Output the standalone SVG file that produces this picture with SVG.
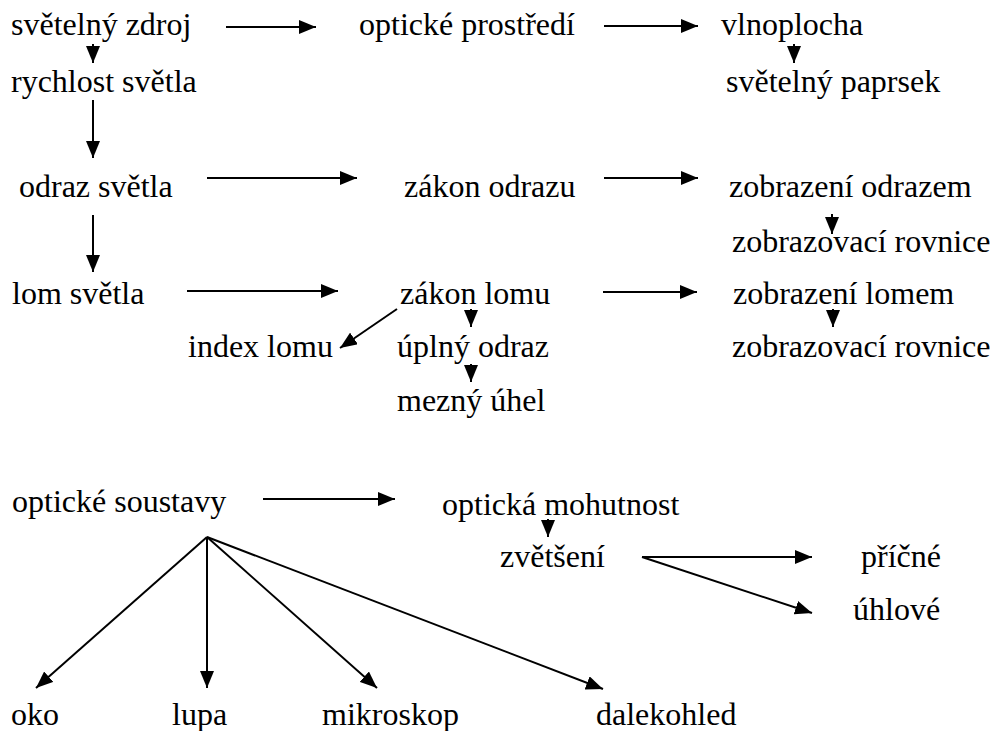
<svg xmlns="http://www.w3.org/2000/svg" width="992" height="731" viewBox="0 0 992 731">
<style>
  .t text { font-family: 'Liberation Serif', 'Times New Roman', Times, 'DejaVu Serif', serif; font-size: 32px; fill: #000; }
  .c line { stroke: #000; stroke-width: 2; marker-end: url(#ah); }
</style>
<defs>
  <marker id="ah" markerUnits="userSpaceOnUse" markerWidth="18" markerHeight="14" refX="17" refY="7" orient="auto">
    <path d="M0,0 L17,7 L0,14 z" fill="#000"/>
  </marker>
</defs>
<rect width="992" height="731" fill="#fff"/>
<g id="connectors" class="c">
  <line x1="226" y1="27" x2="316" y2="27"/>
  <line x1="604" y1="26" x2="698" y2="26"/>
  <line x1="93" y1="44" x2="93" y2="63"/>
  <line x1="794" y1="44" x2="794" y2="63"/>
  <line x1="93" y1="100" x2="93" y2="158"/>
  <line x1="207" y1="178" x2="357" y2="178"/>
  <line x1="604" y1="178" x2="698" y2="178"/>
  <line x1="832" y1="214" x2="832" y2="234"/>
  <line x1="93" y1="215" x2="93" y2="272"/>
  <line x1="187" y1="291" x2="338" y2="291"/>
  <line x1="603" y1="292" x2="697" y2="292"/>
  <line x1="397" y1="309" x2="340" y2="348"/>
  <line x1="471" y1="309" x2="471" y2="327"/>
  <line x1="833" y1="309" x2="833" y2="327"/>
  <line x1="471" y1="364" x2="471" y2="382"/>
  <line x1="263" y1="499" x2="395" y2="499"/>
  <line x1="548" y1="519" x2="548" y2="537"/>
  <line x1="642" y1="557" x2="812" y2="557"/>
  <line x1="642" y1="557" x2="812" y2="613"/>
  <line x1="207" y1="537" x2="36" y2="688"/>
  <line x1="207" y1="537" x2="207" y2="688"/>
  <line x1="207" y1="537" x2="377" y2="688"/>
  <line x1="207" y1="537" x2="603" y2="689"/>
</g>
<g class="t" font-family="Liberation Serif, serif" font-size="32">
<g id="n1"><text x="11" y="35">světelný zdroj</text></g>
<g id="n2"><text x="359" y="35">optické prostředí</text></g>
<g id="n3"><text x="721" y="35">vlnoplocha</text></g>
<g id="n4"><text x="11" y="92">rychlost světla</text></g>
<g id="n5"><text x="726" y="92">světelný paprsek</text></g>
<g id="n6"><text x="19" y="197">odraz světla</text></g>
<g id="n7"><text x="404" y="197">zákon odrazu</text></g>
<g id="n8"><text x="729" y="197">zobrazení odrazem</text></g>
<g id="n9"><text x="732" y="252">zobrazovací rovnice</text></g>
<g id="n10"><text x="12" y="304">lom světla</text></g>
<g id="n11"><text x="400" y="304">zákon lomu</text></g>
<g id="n12"><text x="733" y="304">zobrazení lomem</text></g>
<g id="n13"><text x="188" y="357">index lomu</text></g>
<g id="n14"><text x="397" y="357">úplný odraz</text></g>
<g id="n15"><text x="732" y="357">zobrazovací rovnice</text></g>
<g id="n16"><text x="397" y="411">mezný úhel</text></g>
<g id="n17"><text x="12" y="512">optické soustavy</text></g>
<g id="n18"><text x="442" y="515">optická mohutnost</text></g>
<g id="n19"><text x="500" y="567">zvětšení</text></g>
<g id="n20"><text x="861" y="567">příčné</text></g>
<g id="n21"><text x="853" y="620">úhlové</text></g>
<g id="n22"><text x="11" y="725">oko</text></g>
<g id="n23"><text x="172" y="725">lupa</text></g>
<g id="n24"><text x="322" y="725">mikroskop</text></g>
<g id="n25"><text x="596" y="725">dalekohled</text></g>
</g>
</svg>
